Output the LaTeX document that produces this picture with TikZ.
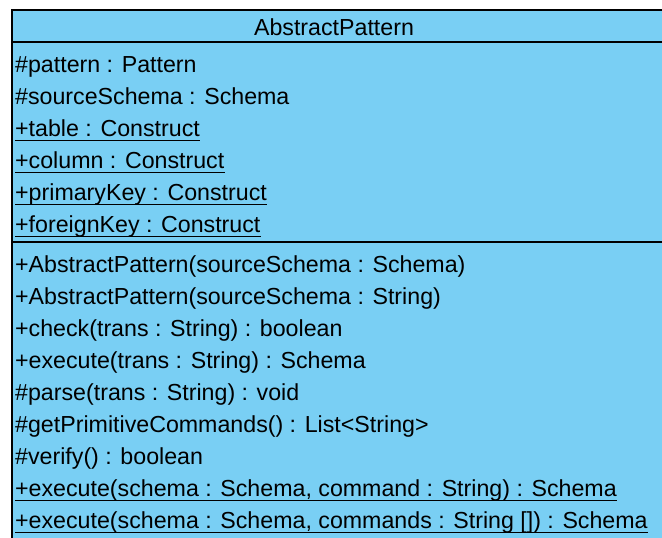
\documentclass[tikz,border=0pt]{standalone}
\usepackage{fontspec}
\setmainfont{Liberation Sans}
\definecolor{classfill}{RGB}{121,207,244}
\begin{document}
\begin{tikzpicture}[x=1pt,y=-1pt,
  txt/.style={anchor=base west,inner sep=0pt,font=\fontsize{23.2}{28}\selectfont},
  title/.style={anchor=base,inner sep=0pt,font=\fontsize{23.2}{28}\selectfont},
  frame/.style={line width=2pt,draw=black},
  uline/.style={line width=1.4pt,draw=black}]
\useasboundingbox (0,0) rectangle (662,538);
\clip (0,0) rectangle (662,538);
% class box (runs past the right and bottom edges)
\fill[classfill] (12,10) rectangle (720,600);
\draw[frame] (12,600) -- (12,10) -- (720,10);
\draw[frame] (12,42) -- (720,42);
\draw[frame] (12,242) -- (720,242);
% class name
\node[title] (name) at (334,35) {AbstractPattern};
% attributes
\node[txt] (a1) at (15,72)  {\#pattern : Pattern};
\node[txt] (a2) at (15,104) {\#sourceSchema : Schema};
\node[txt] (a3) at (15,136) {+table : Construct};
\node[txt] (a4) at (15,168) {+column : Construct};
\node[txt] (a5) at (15,200) {+primaryKey : Construct};
\node[txt] (a6) at (15,232) {+foreignKey : Construct};
% operations
\node[txt] (m1) at (15,272) {+AbstractPattern(sourceSchema : Schema)};
\node[txt] (m2) at (15,304) {+AbstractPattern(sourceSchema : String)};
\node[txt] (m3) at (15,336) {+check(trans : String) : boolean};
\node[txt] (m4) at (15,368) {+execute(trans : String) : Schema};
\node[txt] (m5) at (15,400) {\#parse(trans : String) : void};
\node[txt] (m6) at (15,432) {\#getPrimitiveCommands() : List<String>};
\node[txt] (m7) at (15,464) {\#verify() : boolean};
\node[txt] (m8) at (15,496) {+execute(schema : Schema, command : String) : Schema};
\node[txt] (m9) at (15,528) {+execute(schema : Schema, commands : String []) : Schema};
% static members are underlined
\foreach \n in {a3,a4,a5,a6,m8,m9}
  \draw[uline] ([yshift=-4.5pt]\n.base west) -- ([yshift=-4.5pt]\n.base east);
\end{tikzpicture}
\end{document}
